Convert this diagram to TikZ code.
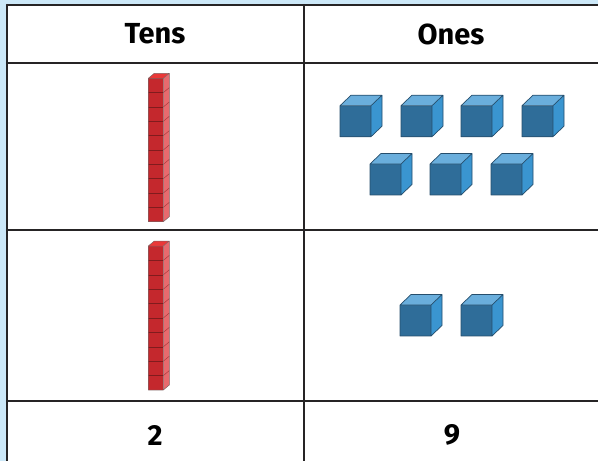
\documentclass[tikz,border=0pt]{standalone}
\usepackage{fontspec}
\setmainfont{Fira Sans}
\usepackage{tkz-euclide}
\usetikzlibrary{calc}
\definecolor{BackClr}{RGB}{204,232,248}
\definecolor{GridClr}{RGB}{38,36,37}
\definecolor{CubeFront}{RGB}{47,109,153}
\definecolor{CubeTop}{RGB}{106,174,220}
\definecolor{CubeSide}{RGB}{58,149,208}
\definecolor{CubeEdge}{RGB}{38,78,108}
\definecolor{RodFront}{RGB}{196,40,45}
\definecolor{RodTop}{RGB}{234,56,56}
\definecolor{RodSide}{RGB}{232,106,110}
\definecolor{RodEdge}{RGB}{128,28,30}

% one blue cube, front top-left corner at (#1,#2)
\newcommand{\OneCube}[2]{%
  \fill[CubeFront] (#1,#2) rectangle ++(31,31);
  \fill[CubeTop] (#1,#2) -- ++(11,-10.5) -- ++(31,0) -- ++(-11,10.5) -- cycle;
  \fill[CubeSide] (#1+31,#2) -- ++(11,-10.5) -- ++(0,31) -- ++(-11,10.5) -- cycle;
  \draw[CubeEdge,line width=.7pt,line join=round]
    (#1,#2) rectangle ++(31,31)
    (#1,#2) -- ++(11,-10.5) -- ++(31,0) -- ++(-11,10.5)
    (#1+42,#2-10.5) -- ++(0,31) -- ++(-11,10.5);
}

% one red rod of ten, front from #2 (top) to #3 (bottom), left edge at #1
\newcommand{\TenRod}[3]{%
  \pgfmathsetmacro{\unitH}{(#3-#2)/10}
  \fill[RodFront] (#1,#2) rectangle (#1+15,#3);
  \fill[RodTop] (#1,#2) -- ++(6,-5) -- ++(15,0) -- ++(-6,5) -- cycle;
  \fill[RodSide] (#1+15,#2) -- ++(6,-5) -- (#1+21,#3-5) -- (#1+15,#3) -- cycle;
  \foreach \k in {1,...,9}{
    \draw[RodEdge,line width=.6pt] (#1,#2+\k*\unitH) -- ++(15,0);
    \draw[RodEdge!60!RodSide,line width=.5pt] (#1+15,#2+\k*\unitH) -- ++(6,-5);
  }
  \draw[gray!70!RodEdge,line width=.5pt,line join=round]
    (#1,#2) rectangle (#1+15,#3)
    (#1,#2) -- ++(6,-5) -- ++(15,0) -- ++(-6,5)
    (#1+21,#2-5) -- (#1+21,#3-5) -- (#1+15,#3);
}

\begin{document}
\begin{tikzpicture}[x=1pt,y=-1pt]
\tkzSetUpLine[line width=2.4pt,color=GridClr]
\useasboundingbox (0,0) rectangle (598,461);
\fill[BackClr] (0,0) rectangle (598,461);

\tkzDefPoints{7/5/TL,604/5/TR,604/470/BR,7/470/BL,
  304/5/MT,304/470/MB,7/63/HL,604/63/HR,7/230/RL,604/230/RR,7/401/SL,604/401/SR}

\tkzFillPolygon[fill=white](TL,TR,BR,BL)
\tkzDrawSegments(TL,TR TL,BL MT,MB HL,HR RL,RR SL,SR)

\node[font=\bfseries\fontsize{29}{32}\selectfont] (tens) at (155,34) {Tens};
\node[font=\bfseries\fontsize{29}{32}\selectfont] (ones) at (451,34) {Ones};

\TenRod{148.3}{78.3}{221.7}
\TenRod{148.3}{246}{390}

\foreach \x in {340,401,461,522}{\OneCube{\x}{105.7}}
\foreach \x in {370,430,491}{\OneCube{\x}{164}}
\foreach \x in {400,461}{\OneCube{\x}{305}}

\node[font=\bfseries\fontsize{29}{32}\selectfont] (tensnum) at (155,435) {2};
\node[font=\bfseries\fontsize{29}{32}\selectfont] (onesnum) at (452,435) {9};

\end{tikzpicture}
\end{document}
